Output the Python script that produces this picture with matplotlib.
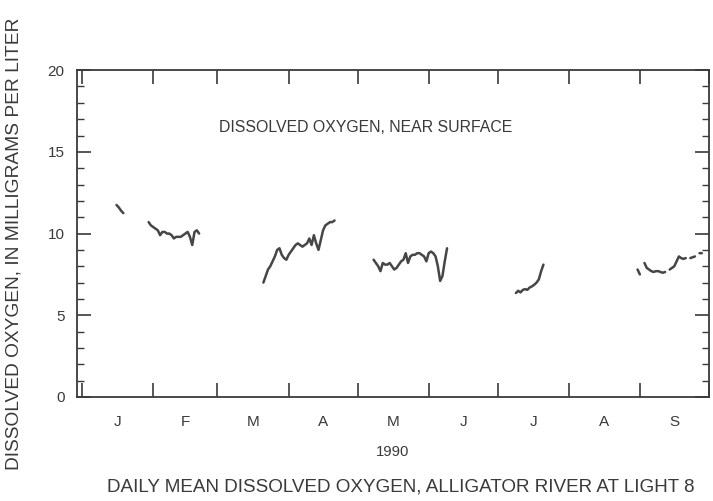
import numpy as np
import matplotlib
matplotlib.use("Agg")
import matplotlib.pyplot as plt

plt.rcParams['font.family'] = ['Liberation Sans', 'DejaVu Sans']

# day of year (Jan 1 = 0) where each record starts, plus daily mean DO (mg/L)
seg1_start = 15
seg1_do = [11.75, 11.6, 11.4, 11.25]

seg2_start = 29
seg2_do = [10.7, 10.5, 10.4, 10.3, 10.2, 9.9, 10.1, 10.1, 10.0, 10.0, 9.9, 9.7,
           9.8, 9.8, 9.8, 9.9, 10.0, 10.1, 9.8, 9.3, 10.1, 10.2, 10.0]

seg3_start = 79
seg3_do = [7.0, 7.4, 7.8, 8.0, 8.3, 8.6, 9.0, 9.1, 8.7, 8.5, 8.4, 8.7, 8.9, 9.1,
           9.3, 9.4, 9.3, 9.2, 9.3, 9.4, 9.7, 9.3, 9.9, 9.4, 9.0, 9.6, 10.2, 10.5,
           10.6, 10.7, 10.7, 10.8]

seg4_start = 127
seg4_do = [8.4, 8.2, 8.0, 7.7, 8.2, 8.1, 8.1, 8.2, 8.0, 7.8, 7.9, 8.1, 8.3, 8.4,
           8.8, 8.2, 8.6, 8.7, 8.7, 8.8, 8.8, 8.7, 8.6, 8.3, 8.8, 8.9, 8.8, 8.6,
           8.0, 7.1, 7.4, 8.3, 9.1]

seg5_start = 189
seg5_do = [6.36, 6.5, 6.4, 6.55, 6.6, 6.56, 6.7, 6.77, 6.87, 7.0, 7.2, 7.7, 8.1]

seg6_start = 242
seg6_do = [7.8, 7.5, np.nan, 8.2, 7.9, 7.8, 7.7, 7.65, 7.7, 7.7, 7.65, 7.6,
           7.65, np.nan, 7.8, 7.9, 8.0, 8.3, 8.6, 8.5, 8.45, 8.5, np.nan, 8.5,
           8.55, 8.6, np.nan, 8.8, 8.8]

month_starts = [0, 31, 59, 90, 120, 151, 181, 212, 243, 273]
month_labels = ['J', 'F', 'M', 'A', 'M', 'J', 'J', 'A', 'S']

ink = '#3a3a3a'
line_col = '#464646'

fig = plt.figure(figsize=(7.13, 5.01), dpi=100)
ax = fig.add_axes([0.108, 0.2076, 0.886, 0.6524])

segments = [(seg1_start, seg1_do), (seg2_start, seg2_do), (seg3_start, seg3_do),
            (seg4_start, seg4_do), (seg5_start, seg5_do), (seg6_start, seg6_do)]
for start, vals in segments:
    days = np.arange(start, start + len(vals))
    ax.plot(days, vals, color=line_col, linewidth=1.8, solid_capstyle='round')

ax.set_xlim(-2.2, 269.7)
ax.set_ylim(0, 20)

# month boundaries as ticks, letters centred in each month
ax.set_xticks(month_starts)
ax.set_xticklabels([])
mids = [(a + b) / 2 for a, b in zip(month_starts[:-1], month_starts[1:])]
ax.set_xticks(mids, minor=True)
ax.set_xticklabels(month_labels, minor=True)
ax.tick_params(axis='x', which='minor', length=0, pad=13, labelsize=11, labelcolor=ink)
ax.tick_params(axis='x', which='major', direction='in', length=10, width=1.2,
               top=True, color=ink)

ax.set_yticks([0, 5, 10, 15, 20])
ax.set_yticks(np.arange(0, 21, 1), minor=True)
ax.tick_params(axis='y', which='major', direction='in', length=10, width=1.2,
               right=True, labelsize=11, labelcolor=ink, color=ink, pad=9)
ax.tick_params(axis='y', which='minor', direction='in', length=5, width=1.0,
               right=True, color=ink)

for sp in ax.spines.values():
    sp.set_color(ink)
    sp.set_linewidth(1.3)

ax.set_ylabel('DISSOLVED OXYGEN, IN MILLIGRAMS PER LITER', fontsize=13.8,
              color=ink)
ax.yaxis.set_label_coords(-0.087, 0.47)

ax.text(0.457, 0.826, 'DISSOLVED OXYGEN, NEAR SURFACE', transform=ax.transAxes,
        ha='center', va='center', fontsize=11.4, color=ink)

fig.text(0.551, 0.098, '1990', ha='center', va='center', fontsize=10.7, color=ink)
fig.text(0.562, 0.028, 'DAILY MEAN DISSOLVED OXYGEN, ALLIGATOR RIVER AT LIGHT 8',
         ha='center', va='center', fontsize=13.6, color=ink)

fig.savefig('out.png', dpi=100)
